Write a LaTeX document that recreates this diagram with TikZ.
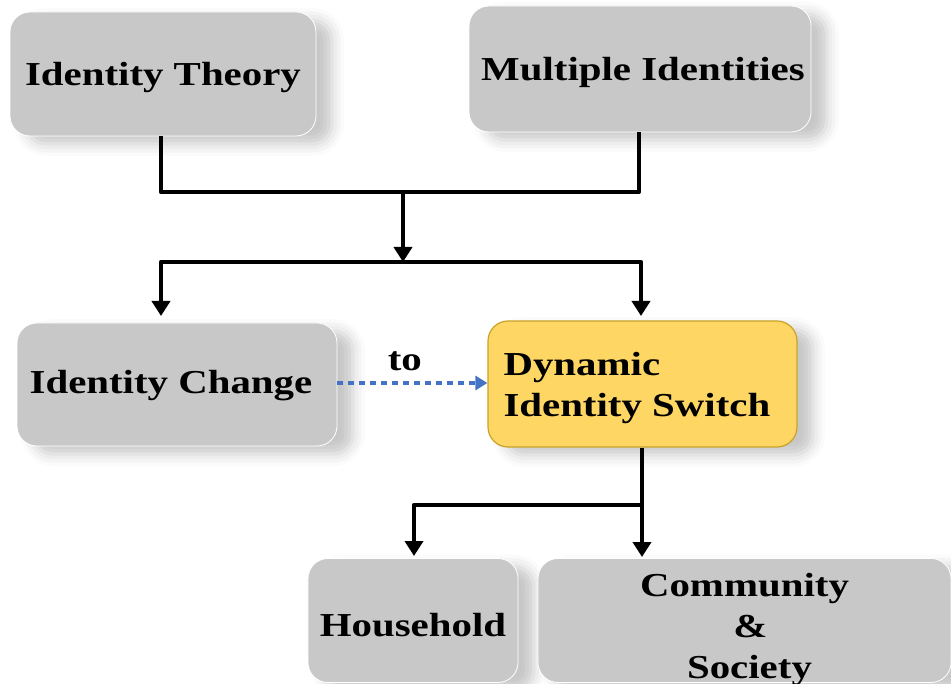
\documentclass[tikz,border=0pt]{standalone}
\usepackage{fontspec}
\setmainfont{Liberation Serif}[FakeStretch=1.22]
\usetikzlibrary{arrows.meta,shadows.blur,calc}
\definecolor{boxgray}{HTML}{C8C8C8}
\definecolor{boxyellow}{HTML}{FDD663}
\definecolor{boxgold}{HTML}{C9A227}
\definecolor{dotblue}{HTML}{4472C4}
\newcommand{\lowr}[2]{\raisebox{-#1}[\height][\depth]{#2}}
\tikzset{
  box/.style={rectangle, rounded corners=20pt, fill=boxgray, draw=white, line width=0.8pt,
    font=\fontsize{33.5}{41}\selectfont\bfseries, align=center, inner sep=0pt,
    blur shadow={shadow xshift=16pt, shadow yshift=-8pt, shadow opacity=22, shadow blur radius=12pt}},
  hibox/.style={box, fill=boxyellow, draw=boxgold, line width=1.2pt, align=left},
  conn/.style={draw=black, line width=4.2pt, line join=round},
  arr/.style={conn, -{Triangle[width=18pt,length=15pt]}},
  dotarr/.style={draw=dotblue, line width=4.8pt, dash pattern=on 6pt off 5pt,
    -{Triangle[width=14pt,length=12pt]}}
}
\begin{document}
\begin{tikzpicture}[x=1pt,y=-1pt]
\useasboundingbox (0,0) rectangle (951,684);

\node[box, minimum width=306pt, minimum height=124pt] (IT) at (163,74) {\lowr{3pt}{Identity Theory}};
\node[box, minimum width=342pt, minimum height=126pt] (MI) at (640,69) {\lowr{3pt}{\hspace*{6pt}Multiple Identities}};
\node[box, minimum width=320pt, minimum height=123pt] (IC) at (177,384.5) {\lowr{1pt}{Identity Change\hspace*{12pt}}};
\node[hibox, minimum width=309pt, minimum height=126pt] (DIS) at (642.5,384)
  {\lowr{4pt}{\parbox{290pt}{\hspace*{6pt}Dynamic\\\hspace*{6pt}Identity Switch}}};
\node[box, minimum width=210pt, minimum height=124pt] (HH) at (413,620.5) {\lowr{5pt}{Household}};
\node[box, minimum width=413pt, minimum height=124pt, text width=413pt] (CS) at (744.5,620.5)
  {\lowr{9pt}{\parbox{413pt}{\centering\fontsize{33.5}{41}\selectfont\bfseries Community\\\hspace*{12pt}\&\\\hspace*{10pt}Society}}};

\coordinate (J1) at (403,192);
\coordinate (J2) at (403,262);
\coordinate (A1) at (161,316);
\coordinate (A2) at (641,316);
\coordinate (J3) at (642,505);
\coordinate (A3) at (414,556);
\coordinate (A4) at (642,557);

\draw[conn] (IT.south -| 161,0) |- (J1) -| (MI.south -| 639,0);
\draw[arr] (J1) -- (J2);
\draw[arr] (J2) -| (A1);
\draw[arr] (J2) -| (A2);
\draw[conn] (DIS.south -| J3) -- (J3);
\draw[arr] (J3) -| (A3);
\draw[arr] (J3) -- (A4);

\draw[dotarr] (IC.east |- 0,383) -- (DIS.west |- 0,383)
  node[pos=0.45, above=10pt, font=\fontsize{33.5}{40}\selectfont\bfseries, inner sep=0pt] (to) {to};
\end{tikzpicture}
\end{document}
